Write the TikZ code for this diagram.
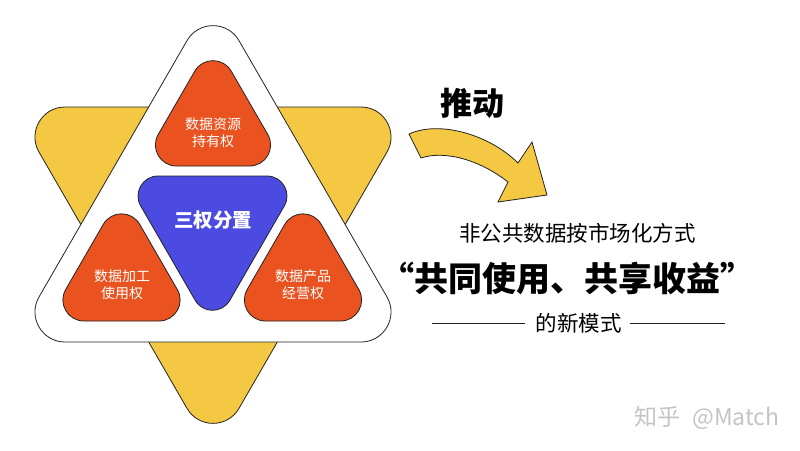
\documentclass[tikz,border=0pt]{standalone}
\usepackage{fontspec}
\usetikzlibrary{calc}
\setmainfont{Noto Sans CJK SC}
\definecolor{tyellow}{HTML}{F4C843}
\definecolor{torange}{HTML}{EA521F}
\definecolor{tblue}{HTML}{4B4BE1}
\definecolor{tline}{HTML}{222222}
\definecolor{wmgray}{HTML}{C4C4C4}
\tikzset{
  tri/.style={draw=tline, line width=0.8pt, line join=round},
  lbl/.style={text=white, inner sep=0pt, align=center, font=\fontsize{14}{17}\selectfont},
  txt/.style={inner sep=0pt, align=center},
  rule/.style={draw=tline, line width=0.9pt}
}
% triangle with circular-arc corners; #1,#2,#3 vertex names, #4 inset (pt), #5 style
\newcommand\roundtri[5]{%
  \draw[#5]
    ($(#1)!#4pt!(#3)$) .. controls ($(#1)!0.556*#4pt!(#3)$) and ($(#1)!0.556*#4pt!(#2)$) .. ($(#1)!#4pt!(#2)$)
    -- ($(#2)!#4pt!(#1)$) .. controls ($(#2)!0.556*#4pt!(#1)$) and ($(#2)!0.556*#4pt!(#3)$) .. ($(#2)!#4pt!(#3)$)
    -- ($(#3)!#4pt!(#2)$) .. controls ($(#3)!0.556*#4pt!(#2)$) and ($(#3)!0.556*#4pt!(#1)$) .. ($(#3)!#4pt!(#1)$)
    -- cycle;}
\begin{document}
\begin{tikzpicture}[x=1pt,y=-1pt]
\useasboundingbox (0,0) rectangle (800,450);
% vertices
\coordinate (y1) at (13,107); \coordinate (y2) at (413,107); \coordinate (y3) at (213,453.4);
\coordinate (w1) at (213,-4.4); \coordinate (w2) at (413,342); \coordinate (w3) at (13,342);
\coordinate (a1) at (213,39.6); \coordinate (a2) at (286,166); \coordinate (a3) at (140,166);
\coordinate (b1) at (121.5,192.8); \coordinate (b2) at (195.5,321); \coordinate (b3) at (47.5,321);
\coordinate (c1) at (303,192.8); \coordinate (c2) at (377,321); \coordinate (c3) at (229,321);
\coordinate (d1) at (123.4,176); \coordinate (d2) at (301.6,176); \coordinate (d3) at (212.5,330.3);
% big hexagram
\roundtri{y1}{y2}{y3}{52}{tri, fill=tyellow}
\roundtri{w1}{w2}{w3}{52}{tri, fill=white}
% inner triangles
\roundtri{a1}{a2}{a3}{36.4}{tri, fill=torange}
\roundtri{b1}{b2}{b3}{36.4}{tri, fill=torange}
\roundtri{c1}{c2}{c3}{36.4}{tri, fill=torange}
\roundtri{d1}{d2}{d3}{34.6}{tri, fill=tblue}
% labels
\node[lbl] (own) at (213,132.5) {数据资源\\持有权};
\node[lbl] (use) at (122,285) {数据加工\\使用权};
\node[lbl] (op) at (303,285) {数据产品\\经营权};
\node[txt, text=white, font=\fontsize{19.5}{20}\selectfont\bfseries] (three) at (213,220) {三权分置};
% arrow
\draw[tri, fill=tyellow, line join=miter] (409,134) .. controls (440,120) and (490,135) .. (518,163) -- (532,142) -- (547,195) -- (498,202) -- (508,182) .. controls (480,160) and (445,150) .. (421,158) -- cycle;
\node[txt, font=\fontsize{32}{32}\selectfont\bfseries] (push) at (472,103) {推动};
% right texts
\node[txt, font=\fontsize{21.5}{22}\selectfont] (nonpub) at (577.5,233) {非公共数据按市场化方式};
\node[txt, font=\fontsize{34}{34}\selectfont\bfseries] (slogan) at (567,278) {“共同使用、共享收益”};
\node[txt, font=\fontsize{21.5}{22}\selectfont] (mode) at (578.5,323) {的新模式};
\draw[rule] ([xshift=-10pt]mode.west) -- ++(-93,0);
\draw[rule] ([xshift=8pt]mode.east) -- ++(95,0);
% watermark
\node[txt, text=wmgray, font=\fontsize{23}{23}\selectfont] (wm) at (707,417.5) {知乎\hspace{12pt}@Match};
\end{tikzpicture}
\end{document}
